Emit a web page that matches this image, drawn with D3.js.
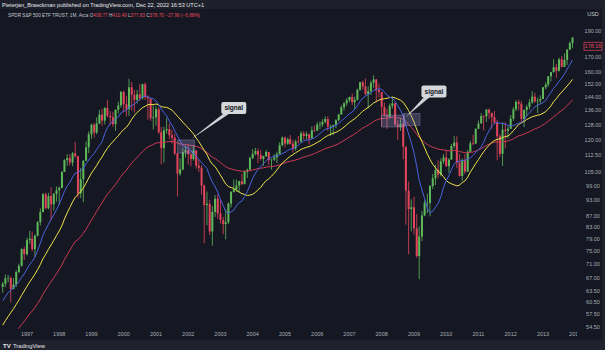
<!DOCTYPE html>
<html>
<head>
<meta charset="utf-8">
<script src="https://cdn.jsdelivr.net/npm/d3@7"></script>
<style>
  body { margin: 0; background: #151822; }
  svg { display: block; font-family: "Liberation Sans", Arial, sans-serif; }
</style>
</head>
<body>
<svg id="chart" width="605" height="350"></svg>
<script>
// SPY monthly bars, Apr 1996 .. Dec 2013 (log scale)
const firstMonth = new Date(1996, 3, 1);

// closes before the first visible bar, only used by the moving averages
const warmupCloses = [
  40.88, 41.27, 40.37, 41.49, 41.54, 40.81, 42.42, 41.40, 41.78, 41.87, 43.14, 43.57,
  43.88, 44.34, 45.17, 44.02, 45.02, 45.05, 44.81, 46.36, 45.89, 46.78, 46.18, 46.65,
  48.16, 46.71, 44.58, 45.09, 45.65, 44.43, 45.83, 47.55, 46.27, 47.24, 45.37, 45.93,
  47.04, 48.74, 50.07, 51.47, 53.34, 54.48, 56.21, 56.19, 58.44, 58.15, 60.54, 61.59,
  63.60, 64.04, 64.55
];

const closes = [
  65.42, 66.91, 67.06, 63.99, 65.20, 68.73, 70.53, 75.70, 74.07,
  78.62, 79.08, 75.71, 80.13, 84.83, 88.51, 95.43, 89.95, 94.73, 91.46, 95.54, 97.04,
  98.03, 104.93, 110.18, 111.18, 109.08, 113.38, 112.07, 95.73, 101.70, 109.87, 116.36, 122.92,
  127.96, 123.83, 128.64, 133.52, 130.18, 137.27, 132.87, 132.04, 128.27, 136.29, 138.89, 146.93,
  139.45, 136.64, 149.86, 145.24, 142.06, 145.46, 143.08, 151.77, 143.65, 142.94, 131.52, 132.03,
  136.60, 123.99, 116.03, 124.95, 125.58, 122.44, 121.12, 113.36, 104.09, 105.98, 113.95, 114.81,
  113.02, 110.67, 114.74, 107.69, 106.71, 98.98, 91.16, 91.61, 81.53, 88.58, 93.63, 87.98,
  85.57, 84.12, 84.82, 91.69, 96.36, 97.45, 99.03, 100.80, 99.60, 105.07, 105.82, 111.19,
  113.11, 114.49, 112.62, 110.73, 112.07, 114.08, 110.17, 110.42, 111.46, 113.02, 117.38, 121.19,
  118.13, 120.36, 118.06, 115.69, 119.15, 119.13, 123.42, 122.03, 122.88, 120.70, 124.95, 124.83,
  128.01, 128.07, 129.49, 131.06, 127.01, 127.02, 127.67, 130.38, 133.59, 137.79, 140.06, 141.83,
  143.82, 140.68, 142.09, 148.24, 153.06, 150.34, 145.53, 147.40, 152.68, 154.94, 148.11, 146.84,
  137.86, 133.06, 132.27, 138.56, 140.04, 128.00, 126.74, 128.28, 116.64, 96.88, 89.62, 90.33,
  82.59, 73.51, 79.79, 87.28, 91.91, 91.93, 98.75, 102.06, 105.71, 103.62, 109.56, 111.51,
  107.39, 110.45, 116.94, 118.67, 108.94, 103.07, 110.16, 104.93, 114.12, 118.33, 118.06, 125.76,
  128.61, 132.72, 132.58, 136.36, 134.52, 132.06, 129.23, 121.89, 113.14, 125.33, 124.70, 125.76,
  131.24, 136.57, 140.85, 139.79, 131.03, 136.22, 137.93, 140.66, 144.07, 141.22, 141.62, 142.62,
  149.81, 151.47, 156.92, 159.76, 163.07, 160.63, 168.57, 163.30, 168.16, 175.65, 180.58, 184.84
];

const highs = [
  65.9, 68.0, 67.9, 67.4, 67.0, 69.2, 71.2, 76.0, 76.5,
  79.5, 81.8, 81.5, 80.5, 85.2, 89.9, 95.9, 96.1, 96.0, 98.3, 96.0, 98.6,
  98.6, 105.0, 110.6, 113.0, 113.0, 114.0, 119.0, 112.1, 106.6, 110.3, 119.2, 124.4,
  128.5, 129.0, 132.0, 136.2, 136.8, 137.8, 142.0, 135.5, 135.1, 136.4, 141.0, 147.5,
  147.8, 144.5, 155.2, 153.2, 148.2, 148.2, 151.8, 152.2, 153.0, 144.8, 143.0, 139.0,
  138.3, 137.7, 126.7, 126.9, 131.5, 128.6, 125.4, 123.2, 113.5, 111.1, 116.0, 117.3,
  117.6, 113.0, 117.4, 115.0, 110.6, 107.9, 99.4, 96.5, 93.2, 90.8, 95.1, 95.4,
  93.3, 86.7, 89.5, 92.2, 96.7, 101.5, 101.5, 101.1, 104.0, 105.5, 106.3, 111.9,
  115.5, 116.0, 115.8, 115.0, 112.3, 115.0, 114.0, 110.9, 113.1, 114.2, 118.8, 121.7,
  121.8, 121.2, 122.5, 119.8, 120.1, 122.0, 124.5, 124.5, 124.3, 123.3, 127.0, 127.5,
  129.4, 129.7, 131.0, 132.6, 132.6, 128.0, 128.0, 131.0, 134.0, 138.9, 140.7, 143.2,
  144.1, 146.1, 144.0, 149.0, 153.3, 154.0, 155.5, 150.4, 154.0, 157.6, 155.0, 152.3,
  147.1, 140.5, 136.9, 140.0, 144.0, 140.5, 130.4, 131.4, 129.8, 116.7, 100.7, 93.4,
  94.4, 87.8, 83.3, 88.8, 93.0, 95.7, 99.2, 103.9, 108.0, 110.1, 111.0, 113.0,
  115.0, 111.2, 118.0, 122.0, 121.9, 113.1, 111.0, 113.0, 115.0, 119.6, 122.7, 126.0,
  130.2, 134.4, 133.2, 136.7, 137.0, 134.5, 135.6, 130.7, 123.0, 129.2, 129.2, 127.0,
  133.3, 137.8, 141.9, 142.2, 141.5, 136.3, 139.2, 142.6, 147.4, 146.4, 143.4, 144.8,
  150.1, 153.0, 157.0, 159.9, 168.7, 165.4, 169.8, 170.9, 172.9, 176.0, 181.8, 185.0
];

const lows = [
  63.0, 64.5, 65.8, 60.5, 63.9, 64.5, 68.4, 70.3, 72.3,
  73.7, 77.3, 75.0, 73.3, 79.8, 83.6, 88.5, 89.6, 89.5, 85.5, 89.0, 92.5,
  91.2, 97.8, 104.8, 107.6, 107.7, 107.4, 111.2, 94.0, 93.9, 92.3, 109.9, 113.5,
  120.5, 121.2, 122.9, 128.2, 127.2, 128.1, 132.0, 127.8, 126.8, 124.7, 134.2, 137.5,
  134.8, 132.5, 132.7, 135.7, 134.6, 140.0, 141.3, 142.3, 142.1, 130.6, 130.0, 125.4,
  127.4, 123.0, 108.2, 109.1, 123.2, 120.4, 118.1, 112.5, 94.5, 103.1, 105.5, 111.4,
  108.1, 107.4, 110.0, 106.3, 104.8, 95.2, 77.6, 83.7, 80.3, 76.8, 86.7, 86.0,
  84.3, 80.6, 78.9, 84.2, 90.2, 96.1, 96.3, 96.1, 99.0, 99.5, 102.2, 105.8,
  110.6, 112.4, 108.8, 110.0, 107.6, 111.7, 107.8, 105.9, 109.8, 108.9, 113.0, 116.8,
  116.4, 117.5, 117.6, 113.7, 114.6, 118.2, 118.9, 120.1, 120.1, 117.6, 120.3, 124.0,
  124.5, 125.5, 126.8, 128.6, 124.5, 121.9, 122.5, 126.0, 129.8, 133.3, 136.0, 138.7,
  140.7, 139.0, 136.4, 141.7, 147.6, 148.5, 144.9, 137.0, 145.0, 149.5, 140.6, 143.5,
  127.0, 132.5, 125.7, 131.6, 137.0, 127.2, 120.0, 124.7, 110.6, 83.9, 74.1, 81.6,
  80.5, 73.0, 66.7, 78.3, 87.0, 88.1, 86.9, 97.5, 99.2, 102.0, 102.9, 108.5,
  107.1, 104.4, 110.5, 115.8, 106.5, 102.8, 101.0, 104.0, 104.9, 113.9, 117.3, 118.9,
  125.7, 128.6, 124.9, 129.5, 131.1, 125.9, 128.3, 110.1, 111.6, 107.5, 115.8, 120.9,
  125.8, 130.0, 135.4, 135.8, 129.1, 126.7, 132.6, 136.5, 139.7, 140.3, 134.4, 139.8,
  142.6, 148.5, 150.1, 153.6, 159.3, 155.9, 160.1, 162.9, 163.3, 164.6, 175.3, 176.7
];

// moving averages drawn over the candles
const maSeries = [
  { period: 50, type: "ema", color: "#cc3a55" },
  { period: 20, type: "sma", color: "#f0e44a" },
  { period: 10, type: "sma", color: "#4a63e0" }
];

const priceTicks = [190, 170, 160, 152, 144, 136, 128, 120, 112.5, 105, 99, 93, 87, 83, 79, 75, 71, 67, 63.5, 60.5, 57.5, 54.5];
const yearTicks = d3.range(1997, 2015);
const lastPrice = 178.16;

// shaded zones and "signal" callouts (time / price anchors)
const zones = [
  { from: new Date(2001, 8, 1), to: new Date(2002, 2, 15), top: 120, bottom: 113.5 },
  { from: new Date(2008, 0, 1), to: new Date(2008, 8, 15), top: 133.3, bottom: 126.7 },
  { from: new Date(2008, 8, 1), to: new Date(2009, 2, 10), top: 134.2, bottom: 127.6 }
];
const signals = [
  { label: "signal", tipDate: new Date(2002, 1, 1), tipPrice: 120.4, boxDate: new Date(2003, 5, 1), boxPrice: 137.3 },
  { label: "signal", tipDate: new Date(2008, 9, 1), tipPrice: 132.2, boxDate: new Date(2009, 7, 15), boxPrice: 147.2 }
];

const W = 605, H = 350;
const plot = { left: 0, right: 579, top: 9, bottom: 329 };

const svg = d3.select("#chart");

// backgrounds
svg.append("rect").attr("width", W).attr("height", H).attr("fill", "#151822");
svg.append("rect").attr("width", W).attr("height", 9).attr("fill", "#1d202b");
svg.append("rect").attr("y", 340).attr("width", W).attr("height", 10).attr("fill", "#1f222d");
svg.append("rect").attr("x", 602).attr("y", 9).attr("width", 3).attr("height", 331).attr("fill", "#1f222d");

const x = d3.scaleTime()
  .domain([new Date(1997, 0, 1), new Date(2013, 0, 1)])
  .range([27, 543]);

const y = d3.scaleLog()
  .domain([54.5, 190])
  .range([327, 31]);

const bars = closes.map((c, i) => ({
  date: new Date(firstMonth.getFullYear(), firstMonth.getMonth() + i, 1),
  open: i === 0 ? warmupCloses[warmupCloses.length - 1] : closes[i - 1],
  high: highs[i],
  low: lows[i],
  close: c
}));

const allCloses = warmupCloses.concat(closes);

const defs = svg.append("defs");
defs.append("clipPath").attr("id", "plotClip")
  .append("rect")
  .attr("x", plot.left).attr("y", plot.top)
  .attr("width", plot.right - plot.left).attr("height", plot.bottom - plot.top);
defs.append("clipPath").attr("id", "timeClip")
  .append("rect").attr("x", 0).attr("y", 329).attr("width", 577).attr("height", 11);

const g = svg.append("g").attr("clip-path", "url(#plotClip)");

// candles
const upColor = "#5fb85a", downColor = "#e3455c";
const candle = g.append("g").selectAll("g")
  .data(bars)
  .enter()
  .append("g");

candle.append("line")
  .attr("x1", d => x(d.date)).attr("x2", d => x(d.date))
  .attr("y1", d => y(d.high)).attr("y2", d => y(d.low))
  .attr("stroke", d => d.close >= d.open ? upColor : downColor)
  .attr("stroke-width", 0.8);

candle.append("rect")
  .attr("x", d => x(d.date) - 1)
  .attr("width", 2)
  .attr("y", d => y(Math.max(d.open, d.close)))
  .attr("height", d => Math.max(0.6, Math.abs(y(d.open) - y(d.close))))
  .attr("fill", d => d.close >= d.open ? upColor : downColor);

// moving averages
function movingAverage(period, type) {
  const out = [];
  let ema = allCloses[0];
  const k = 2 / (period + 1);
  allCloses.forEach((c, idx) => {
    ema = idx === 0 ? c : c * k + ema * (1 - k);
    const i = idx - warmupCloses.length;
    if (i < 0) return;
    if (type === "ema") {
      out.push({ date: bars[i].date, value: ema });
    } else if (idx - period + 1 >= 0) {
      out.push({ date: bars[i].date, value: d3.mean(allCloses.slice(idx - period + 1, idx + 1)) });
    }
  });
  return out;
}

maSeries.forEach(ma => {
  g.append("path")
    .datum(movingAverage(ma.period, ma.type))
    .attr("fill", "none")
    .attr("stroke", ma.color)
    .attr("stroke-width", 1)
    .attr("d", d3.line().x(d => x(d.date)).y(d => y(d.value)));
});

// zones
g.append("g").selectAll("rect")
  .data(zones)
  .enter()
  .append("rect")
  .attr("x", d => x(d.from))
  .attr("y", d => y(d.top))
  .attr("width", d => x(d.to) - x(d.from))
  .attr("height", d => y(d.bottom) - y(d.top))
  .attr("fill", "rgba(160,150,215,0.28)")
  .attr("stroke", "rgba(185,175,235,0.45)")
  .attr("stroke-width", 0.6);

// callouts
const boxW = 25, boxH = 12;
signals.forEach(s => {
  const bx = x(s.boxDate) - boxW / 2, by = y(s.boxPrice) - boxH / 2;
  const tx = x(s.tipDate), ty = y(s.tipPrice);
  g.append("path")
    .attr("d", `M${bx + 3},${by + boxH - 1} L${bx + 9},${by + boxH - 1} L${tx},${ty} Z`)
    .attr("fill", "#cfd0d4");
  g.append("rect")
    .attr("x", bx).attr("y", by)
    .attr("width", boxW).attr("height", boxH)
    .attr("rx", 2)
    .attr("fill", "#d6d7db");
  g.append("text")
    .attr("x", bx + boxW / 2).attr("y", by + boxH / 2 + 2.3)
    .attr("text-anchor", "middle")
    .attr("fill", "#131722")
    .style("font-size", "6.5px")
    .style("font-weight", "bold")
    .text(s.label);
});

// time axis
svg.append("g").attr("clip-path", "url(#timeClip)")
  .selectAll("text")
  .data(yearTicks)
  .enter()
  .append("text")
  .attr("x", d => x(new Date(d, 0, 1)))
  .attr("y", 335.5)
  .attr("text-anchor", "middle")
  .attr("fill", "#a9acb6")
  .style("font-size", "5.5px")
  .text(d => d);

// price axis
svg.append("g").selectAll("text")
  .data(priceTicks)
  .enter()
  .append("text")
  .attr("x", 593)
  .attr("y", d => y(d) + 2)
  .attr("text-anchor", "middle")
  .attr("fill", "#a9acb6")
  .style("font-size", "5.5px")
  .text(d => d.toFixed(2));

svg.append("text")
  .attr("x", 593).attr("y", 16)
  .attr("text-anchor", "middle")
  .attr("fill", "#c3c6ce")
  .style("font-size", "5.5px")
  .text("USD");

svg.append("rect")
  .attr("x", 584).attr("y", y(lastPrice) - 4)
  .attr("width", 18).attr("height", 8)
  .attr("fill", "#151822")
  .attr("stroke", "#e3455c")
  .attr("stroke-width", 0.7);
svg.append("text")
  .attr("x", 593).attr("y", y(lastPrice) + 2)
  .attr("text-anchor", "middle")
  .attr("fill", "#e3455c")
  .style("font-size", "5.5px")
  .text(lastPrice.toFixed(2));

// header
svg.append("text")
  .attr("x", 2).attr("y", 6.5)
  .attr("fill", "#e6e7ea")
  .style("font-size", "5.6px")
  .text("Pieterjan_Braeckman published on TradingView.com, Dec 22, 2022 16:53 UTC+1");

const legend = svg.append("text")
  .attr("x", 8).attr("y", 17)
  .style("font-size", "4.7px")
  .attr("fill", "#c3c6ce");
legend.append("tspan").text("SPDR S&P 500 ETF TRUST, 1M, Arca  ");
[["O", "408.77"], ["H", "410.49"], ["L", "377.83"], ["C", "378.70"]].forEach(([k, v]) => {
  legend.append("tspan").attr("fill", "#c3c6ce").text(k);
  legend.append("tspan").attr("fill", "#e3455c").text(v + " ");
});
legend.append("tspan").attr("fill", "#e3455c").text("\u221227.96 (\u22126.88%)");

// footer logo
svg.append("text")
  .attr("x", 3).attr("y", 347.5)
  .attr("fill", "#e6e7ea")
  .style("font-size", "6px")
  .style("font-weight", "bold")
  .text("TV");
svg.append("text")
  .attr("x", 13).attr("y", 347.5)
  .attr("fill", "#e6e7ea")
  .style("font-size", "5.8px")
  .text("TradingView");
</script>
</body>
</html>
